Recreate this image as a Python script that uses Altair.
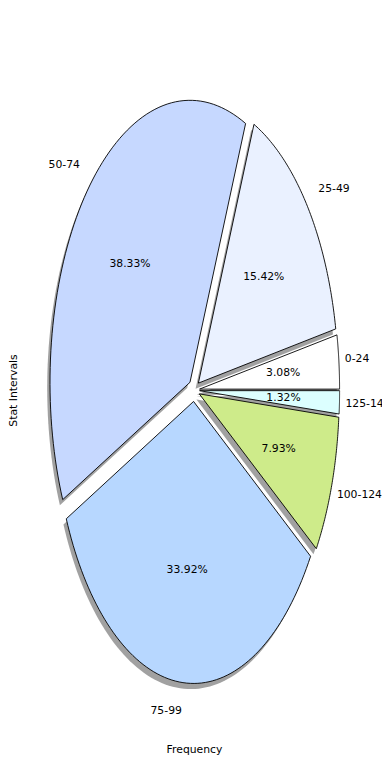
import altair as alt
import pandas as pd

categories = ["0-24", "25-49", "50-74", "75-99", "100-124", "125-149"]
percentages = [3.08, 15.42, 38.33, 33.92, 7.93, 1.32]
colors = ["#ffffff", "#eaf1ff", "#c6d8ff", "#b7d7ff", "#ceeb8a", "#dcffff"]

df = pd.DataFrame({"cat": categories, "pct": percentages, "idx": list(range(len(categories)))})

N = 80
EXPLODE = 0.04
LABEL_D = 1.1
PCT_D = 0.6
SDX, SDY = -0.02, -0.02
FONT = "DejaVu Sans"
FS = 10.8

# svg sits at page (8, 8); whole svg must stay within 374 x 764
PLOT_W, PLOT_H = 374, 756
CX, CY, RX, RY = 186, 382.2, 140, 282
EDGE_SHIFT = 8 / RX  # keep labels at the right border readable
xscale = alt.Scale(domain=[-CX / RX, (PLOT_W - CX) / RX], nice=False, zero=False)
yscale = alt.Scale(domain=[(CY - PLOT_H) / RY, CY / RY], nice=False, zero=False)

base = (
    alt.Chart(df)
    .transform_window(cum="sum(pct)", frame=[None, 0], sort=[alt.SortField("idx")])
    .transform_calculate(
        a0="(datum.cum - datum.pct) / 100 * 2 * PI",
        a1="datum.cum / 100 * 2 * PI",
    )
    .transform_calculate(mid="(datum.a0 + datum.a1) / 2")
    .transform_calculate(
        ex=f"{EXPLODE} * cos(datum.mid)",
        ey=f"{EXPLODE} * sin(datum.mid)",
        txt="format(datum.pct, '.2f') + '%'",
        lx=f"({EXPLODE} + {LABEL_D}) * cos(datum.mid) - (cos(datum.mid) > 0.9 ? {EDGE_SHIFT} : 0)",
        ly=f"({EXPLODE} + {LABEL_D}) * sin(datum.mid)",
        qx=f"({EXPLODE} + {PCT_D}) * cos(datum.mid)",
        qy=f"({EXPLODE} + {PCT_D}) * sin(datum.mid)",
    )
)

poly = (
    base.transform_calculate(k=f"sequence(0, {N + 3})")
    .transform_flatten(["k"])
    .transform_calculate(
        t=f"datum.a0 + (datum.a1 - datum.a0) * (datum.k - 1) / {N}",
        edge=f"datum.k > 0 && datum.k < {N + 2}",
    )
    .transform_calculate(
        px="datum.ex + (datum.edge ? cos(datum.t) : 0)",
        py="datum.ey + (datum.edge ? sin(datum.t) : 0)",
    )
    .transform_calculate(sx=f"datum.px + ({SDX})", sy=f"datum.py + ({SDY})")
)

x_axis = alt.Axis(
    title="Frequency", labels=False, ticks=False, domain=False, grid=False,
    titleFont=FONT, titleFontSize=FS, titleFontWeight="normal", titleColor="black",
    titleX=186, titleY=741 - PLOT_H, titleAlign="center", titleBaseline="middle",
)
y_axis = alt.Axis(
    title="Stat Intervals", labels=False, ticks=False, domain=False, grid=False,
    titleFont=FONT, titleFontSize=FS, titleFontWeight="normal", titleColor="black",
    titleX=8, titleY=382, titleAngle=270, titleAlign="center", titleBaseline="alphabetic",
)

shadow = poly.mark_line(fill="#444444", fillOpacity=0.5, stroke="transparent", strokeWidth=0).encode(
    x=alt.X("sx:Q", scale=xscale, axis=x_axis),
    y=alt.Y("sy:Q", scale=yscale, axis=y_axis),
    order=alt.Order("k:Q"),
    detail="cat:N",
)

wedges = poly.mark_line(stroke="black", strokeWidth=0.9).encode(
    x=alt.X("px:Q", scale=xscale),
    y=alt.Y("py:Q", scale=yscale),
    order=alt.Order("k:Q"),
    fill=alt.Fill("cat:N", scale=alt.Scale(domain=categories, range=colors), legend=None),
    detail="cat:N",
)

labels_right = base.transform_filter("cos(datum.mid) >= 0").mark_text(
    align="left", baseline="middle", font=FONT, fontSize=FS, color="black"
).encode(x=alt.X("lx:Q", scale=xscale), y=alt.Y("ly:Q", scale=yscale), text="cat:N")

labels_left = base.transform_filter("cos(datum.mid) < 0").mark_text(
    align="right", baseline="middle", font=FONT, fontSize=FS, color="black"
).encode(x=alt.X("lx:Q", scale=xscale), y=alt.Y("ly:Q", scale=yscale), text="cat:N")

pct_labels = base.mark_text(
    align="center", baseline="middle", font=FONT, fontSize=FS, color="black"
).encode(x=alt.X("qx:Q", scale=xscale), y=alt.Y("qy:Q", scale=yscale), text="txt:N")

chart = (
    alt.layer(shadow, wedges, labels_right, labels_left, pct_labels)
    .properties(
        width=PLOT_W, height=PLOT_H,
        autosize=alt.AutoSizeParams(type="none"),
        padding=0,
    )
    .configure_view(stroke=None)
)

chart.save("out.html", embed_options={"renderer": "svg", "actions": False})
